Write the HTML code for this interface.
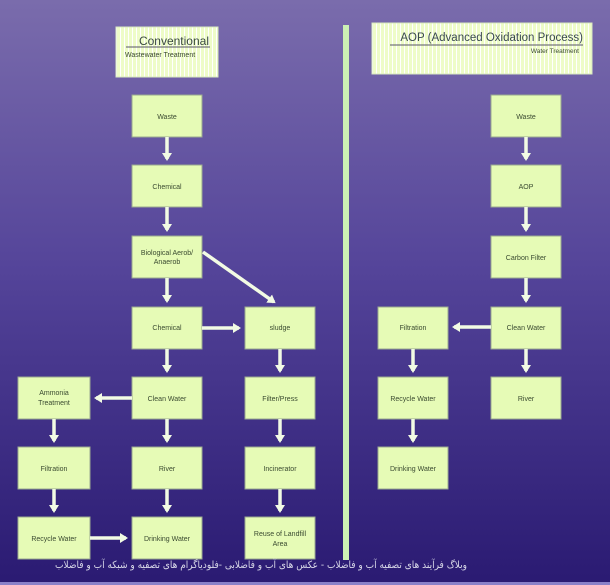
<!DOCTYPE html>
<html><head><meta charset="utf-8"><style>
html,body{margin:0;padding:0;width:610px;height:585px;overflow:hidden}
svg{display:block}
text{font-family:"Liberation Sans",sans-serif;fill:#3a4a30}
</style></head><body>
<svg width="610" height="585" viewBox="0 0 610 585" xmlns="http://www.w3.org/2000/svg">
<defs>
<linearGradient id="bg" x1="0" y1="0" x2="0" y2="1">
<stop offset="0" stop-color="#7a6cac"/>
<stop offset="0.45" stop-color="#55459a"/>
<stop offset="1" stop-color="#2a1a72"/>
</linearGradient>
<pattern id="stripe" width="4" height="10" patternUnits="userSpaceOnUse">
<rect width="4" height="10" fill="#eefcc8"/><rect width="1" height="10" fill="#ffffff"/>
</pattern>
<marker id="ah" markerWidth="10" markerHeight="10" refX="6" refY="5" orient="auto" markerUnits="userSpaceOnUse">
<path d="M0,0 L8,5 L0,10 Z" fill="#f2fbe4"/>
</marker>
</defs>
<rect width="610" height="585" fill="url(#bg)"/>
<rect x="0" y="582" width="610" height="3" fill="#8a80c8"/>
<rect x="116" y="27" width="102" height="50" fill="url(#stripe)" stroke="#d8e8c0"/>
<text x="209" y="45" font-size="12" text-anchor="end" style="fill:#3a4a40">Conventional</text>
<line x1="126" y1="47" x2="210" y2="47" stroke="#556"/>
<text x="125" y="57" font-size="7">Wastewater Treatment</text>
<rect x="372" y="23" width="220" height="51" fill="url(#stripe)" stroke="#d8e8c0"/>
<text x="583" y="41" font-size="11.5" text-anchor="end" style="fill:#3a4a50">AOP (Advanced Oxidation Process)</text>
<line x1="390" y1="45" x2="583" y2="45" stroke="#556"/>
<text x="579" y="53" font-size="6.5" text-anchor="end">Water Treatment</text>
<rect x="343" y="25" width="6" height="535" fill="#ccf0b4"/>
<g fill="#e6fbb6" stroke="#9aa890" stroke-width="1">
<rect x="132" y="95" width="70" height="42"/>
<rect x="132" y="165" width="70" height="42"/>
<rect x="132" y="236" width="70" height="42"/>
<rect x="132" y="307" width="70" height="42"/>
<rect x="245" y="307" width="70" height="42"/>
<rect x="18" y="377" width="72" height="42"/>
<rect x="132" y="377" width="70" height="42"/>
<rect x="245" y="377" width="70" height="42"/>
<rect x="18" y="447" width="72" height="42"/>
<rect x="132" y="447" width="70" height="42"/>
<rect x="245" y="447" width="70" height="42"/>
<rect x="18" y="517" width="72" height="42"/>
<rect x="132" y="517" width="70" height="42"/>
<rect x="245" y="517" width="70" height="42"/>
<rect x="491" y="95" width="70" height="42"/>
<rect x="491" y="165" width="70" height="42"/>
<rect x="491" y="236" width="70" height="42"/>
<rect x="491" y="307" width="70" height="42"/>
<rect x="378" y="307" width="70" height="42"/>
<rect x="378" y="377" width="70" height="42"/>
<rect x="491" y="377" width="70" height="42"/>
<rect x="378" y="447" width="70" height="42"/>
</g>
<g font-size="7" text-anchor="middle">
<text x="167" y="119">Waste</text>
<text x="167" y="189">Chemical</text>
<text x="167" y="255">Biological Aerob/</text>
<text x="167" y="264">Anaerob</text>
<text x="167" y="330">Chemical</text>
<text x="280" y="330">sludge</text>
<text x="54" y="395">Ammonia</text>
<text x="54" y="405">Treatment</text>
<text x="167" y="401">Clean Water</text>
<text x="280" y="401">Filter/Press</text>
<text x="54" y="471">Filtration</text>
<text x="167" y="471">River</text>
<text x="280" y="471">Incinerator</text>
<text x="54" y="541">Recycle Water</text>
<text x="167" y="541">Drinking Water</text>
<text x="280" y="536">Reuse of Landfill</text>
<text x="280" y="546">Area</text>
<text x="526" y="119">Waste</text>
<text x="526" y="189">AOP</text>
<text x="526" y="260">Carbon Filter</text>
<text x="526" y="330">Clean Water</text>
<text x="413" y="330">Filtration</text>
<text x="413" y="401">Recycle Water</text>
<text x="526" y="401">River</text>
<text x="413" y="471">Drinking Water</text>
</g>
<g stroke="#f2fbe4" stroke-width="3.5" marker-end="url(#ah)" fill="none">
<line x1="167" y1="137" x2="167" y2="159"/>
<line x1="167" y1="207" x2="167" y2="230"/>
<line x1="167" y1="278" x2="167" y2="301"/>
<line x1="167" y1="349" x2="167" y2="371"/>
<line x1="167" y1="419" x2="167" y2="441"/>
<line x1="167" y1="489" x2="167" y2="511"/>
<line x1="280" y1="349" x2="280" y2="371"/>
<line x1="280" y1="419" x2="280" y2="441"/>
<line x1="280" y1="489" x2="280" y2="511"/>
<line x1="54" y1="419" x2="54" y2="441"/>
<line x1="54" y1="489" x2="54" y2="511"/>
<line x1="202" y1="328" x2="239" y2="328"/>
<line x1="132" y1="398" x2="96" y2="398"/>
<line x1="90" y1="538" x2="126" y2="538"/>
<line x1="203" y1="252" x2="274" y2="302"/>
<line x1="526" y1="137" x2="526" y2="159"/>
<line x1="526" y1="207" x2="526" y2="230"/>
<line x1="526" y1="278" x2="526" y2="301"/>
<line x1="526" y1="349" x2="526" y2="371"/>
<line x1="413" y1="349" x2="413" y2="371"/>
<line x1="413" y1="419" x2="413" y2="441"/>
<line x1="491" y1="327" x2="454" y2="327"/>
</g>
<text x="261" y="568" font-size="10" text-anchor="middle" textLength="412" lengthAdjust="spacingAndGlyphs" style="fill:#d8d8e8;font-family:'DejaVu Sans',sans-serif" direction="rtl">وبلاگ فرآیند های تصفیه آب و فاضلاب - عکس های آب و فاضلابی -فلودیاگرام های تصفیه و شبکه آب و فاضلاب</text>
</svg>
</body></html>
